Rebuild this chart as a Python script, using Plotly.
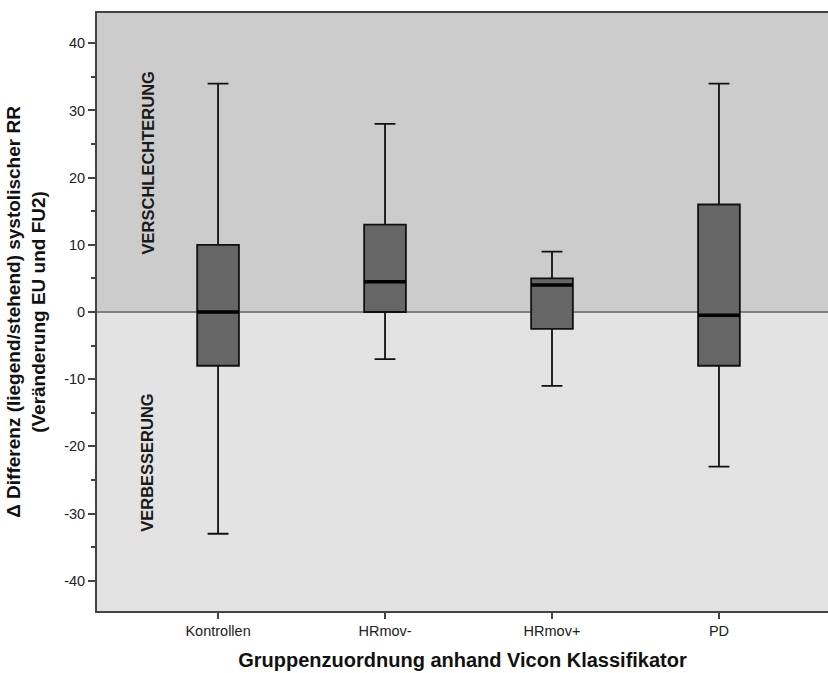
import plotly.graph_objects as go

categories = ["Kontrollen", "HRmov-", "HRmov+", "PD"]
lower_whisker = [-33, -7, -11, -23]
q1_values = [-8, 0, -2.5, -8]
median_values = [0, 4.5, 4, -0.5]
q3_values = [10, 13, 5, 16]
upper_whisker = [34, 28, 9, 34]
y_tick_values = [-40, -30, -20, -10, 0, 10, 20, 30, 40]
y_tick_labels = ["-40", "-30", "-20", "-10", "0", "10", "20", "30", "40"]

positions = list(range(len(categories)))
box_width = 0.25

fig = go.Figure()

# background regions
fig.add_shape(type="rect", xref="paper", yref="y", x0=0, x1=1, y0=0, y1=44.5,
              fillcolor="#cccccc", line_width=0, layer="below")
fig.add_shape(type="rect", xref="paper", yref="y", x0=0, x1=1, y0=-44.5, y1=0,
              fillcolor="#e3e3e3", line_width=0, layer="below")

fig.add_trace(go.Box(
    x=positions,
    q1=q1_values, median=median_values, q3=q3_values,
    lowerfence=lower_whisker, upperfence=upper_whisker,
    width=box_width, whiskerwidth=0.5,
    fillcolor="#666666",
    line=dict(color="#111111", width=1.8),
    showlegend=False, hoverinfo="skip",
))

# zero reference line
fig.add_shape(type="line", xref="paper", yref="y", x0=0, x1=1, y0=0, y1=0,
              line=dict(color="#808080", width=2), layer="below")

# thicker median lines
for p, m in zip(positions, median_values):
    fig.add_trace(go.Scatter(x=[p - box_width / 2, p + box_width / 2], y=[m, m],
                             mode="lines", line=dict(color="#000000", width=3.5),
                             showlegend=False, hoverinfo="skip"))

fig.add_annotation(x=-0.422, y=22.2, xref="x", yref="y", text="<b>VERSCHLECHTERUNG</b>",
                   textangle=-90, showarrow=False,
                   font=dict(family="Liberation Sans", size=16.5, color="#1a1a1a"))
fig.add_annotation(x=-0.422, y=-22.5, xref="x", yref="y", text="<b>VERBESSERUNG</b>",
                   textangle=-90, showarrow=False,
                   font=dict(family="Liberation Sans", size=16.5, color="#1a1a1a"))

fig.update_layout(
    width=828, height=673,
    margin=dict(l=97, r=0, t=13, b=62),
    paper_bgcolor="white", plot_bgcolor="white",
    font=dict(family="Liberation Sans", color="#222222"),
)
fig.update_xaxes(
    range=[-0.725, 3.653], tickvals=positions, ticktext=categories,
    showgrid=False, zeroline=False, automargin=False,
    showline=True, linecolor="#444444", linewidth=1.8, mirror=True,
    ticks="outside", ticklen=6, tickwidth=1.8, tickcolor="#444444",
    tickfont=dict(size=14.5, color="#222222"),
    title=dict(text="<b>Gruppenzuordnung anhand Vicon Klassifikator</b>",
               font=dict(size=20, color="#111111"), standoff=15),
)
fig.update_yaxes(
    range=[-44.5, 44.5], tickvals=y_tick_values, ticktext=y_tick_labels,
    showgrid=False, zeroline=False, automargin=False,
    showline=True, linecolor="#444444", linewidth=1.8,
    ticks="outside", ticklen=7, tickwidth=1.8, tickcolor="#444444",
    minor=dict(dtick=5, ticks="outside", ticklen=4, tickcolor="#444444", tickwidth=1.8, showgrid=False),
    tickfont=dict(size=14.5, color="#222222"),
    title=dict(text="<b>Δ Differenz (liegend/stehend) systolischer RR<br>(Veränderung EU und FU2)</b>",
               font=dict(size=19, color="#111111"), standoff=14),
)

fig.write_html(
    "out.html",
    config={"displayModeBar": False},
    post_script="document.body.style.margin='0';document.body.style.overflow='hidden';"
                "document.documentElement.style.overflow='hidden';",
)
